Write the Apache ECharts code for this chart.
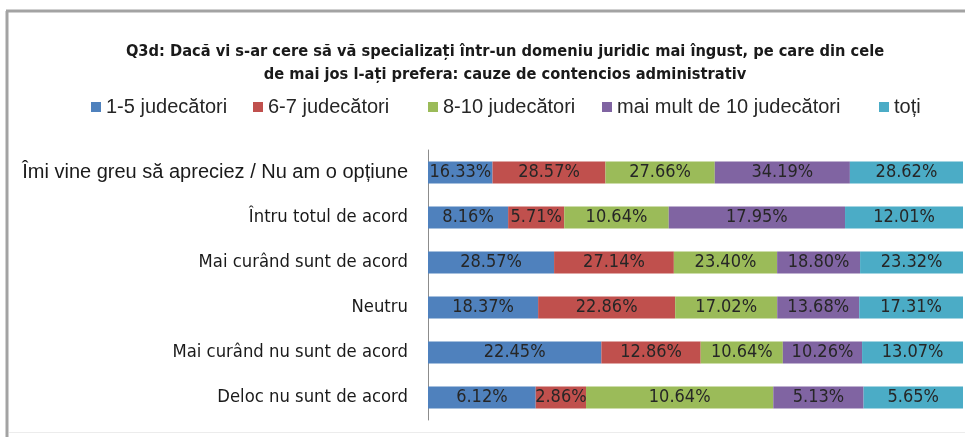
<!DOCTYPE html>
<html>
<head>
<meta charset="utf-8">
<script src="https://cdn.jsdelivr.net/npm/echarts@6/dist/echarts.min.js"></script>
<style>
html,body{margin:0;padding:0;background:#fff;}
#c{width:965px;height:437px;}
</style>
</head>
<body>
<div id="c"></div>
<script>
var titleText = 'Q3d: Dacă vi s-ar cere să vă specializați într-un domeniu juridic mai îngust, pe care din cele\nde mai jos l-ați prefera: cauze de contencios administrativ';
var categories = [
  'Îmi vine greu să apreciez / Nu am o opțiune',
  'Întru totul de acord',
  'Mai curând sunt de acord',
  'Neutru',
  'Mai curând nu sunt de acord',
  'Deloc nu sunt de acord'
];
var seriesNames = ['1-5 judecători', '6-7 judecători', '8-10 judecători', 'mai mult de 10 judecători', 'toți'];
var s1 = [16.33, 8.16, 28.57, 18.37, 22.45, 6.12];
var s2 = [28.57, 5.71, 27.14, 22.86, 12.86, 2.86];
var s3 = [27.66, 10.64, 23.40, 17.02, 10.64, 10.64];
var s4 = [34.19, 17.95, 18.80, 13.68, 10.26, 5.13];
var s5 = [28.62, 12.01, 23.32, 17.31, 13.07, 5.65];
var colors = ['#4F81BD', '#C0504D', '#9BBB59', '#8064A2', '#4BACC6'];

var allSeries = [s1, s2, s3, s4, s5];
var rowSums = categories.map(function (c, i) {
  return allSeries.reduce(function (a, s) { return a + s[i]; }, 0);
});

var cond = "'DejaVu Sans Condensed', 'Liberation Sans', Arial, sans-serif";
var sans = "'Liberation Sans', Arial, sans-serif";

var series = allSeries.map(function (s, k) {
  return {
    name: seriesNames[k],
    type: 'bar',
    stack: 'total',
    barWidth: 22,
    itemStyle: { color: colors[k] },
    label: {
      show: true,
      position: 'inside',
      color: '#262626',
      fontFamily: cond,
      fontSize: 18,
      formatter: function (p) { return p.data.raw.toFixed(2) + '%'; }
    },
    data: s.map(function (v, i) { return { value: v / rowSums[i] * 100, raw: v }; })
  };
});

var legendLefts = [86, 248, 423, 597, 874];
var legends = seriesNames.map(function (n, k) {
  return {
    top: 92,
    left: legendLefts[k],
    itemWidth: 10,
    itemHeight: 10,
    icon: 'rect',
    textStyle: { fontFamily: sans, fontSize: 20, color: '#262626' },
    data: [n]
  };
});

var chart = echarts.init(document.getElementById('c'), null, { renderer: 'canvas' });
chart.setOption({
  animation: false,
  backgroundColor: '#fff',
  title: {
    text: titleText,
    left: 500,
    top: 35,
    textAlign: 'center',
    textStyle: {
      fontFamily: cond,
      fontWeight: 'bold',
      fontSize: 16.3,
      lineHeight: 23,
      color: '#1a1a1a'
    }
  },
  legend: legends,
  grid: { left: 428, right: 2, top: 150, bottom: 17, containLabel: false },
  xAxis: {
    type: 'value', min: 0, max: 100,
    show: false
  },
  yAxis: {
    type: 'category',
    inverse: true,
    data: categories,
    axisLine: { show: true, lineStyle: { color: '#8c8c8c', width: 1 } },
    axisTick: { show: false },
    axisLabel: {
      margin: 20,
      color: '#1a1a1a',
      formatter: function (v, i) { return i === 0 ? '{a|' + v + '}' : '{b|' + v + '}'; },
      rich: {
        a: { fontFamily: sans, fontSize: 20, color: '#1a1a1a' },
        b: { fontFamily: cond, fontSize: 18.3, color: '#1a1a1a' }
      }
    }
  },
  graphic: [
    { type: 'line', shape: { x1: 7, y1: 11, x2: 7, y2: 437 }, style: { stroke: '#a3a3a3', lineWidth: 3 } },
    { type: 'line', shape: { x1: 6, y1: 11, x2: 965, y2: 11 }, style: { stroke: '#a3a3a3', lineWidth: 3 } },
    { type: 'line', shape: { x1: 9, y1: 432.5, x2: 965, y2: 432.5 }, style: { stroke: '#ececec', lineWidth: 1 } }
  ],
  series: series
});
</script>
</body>
</html>
